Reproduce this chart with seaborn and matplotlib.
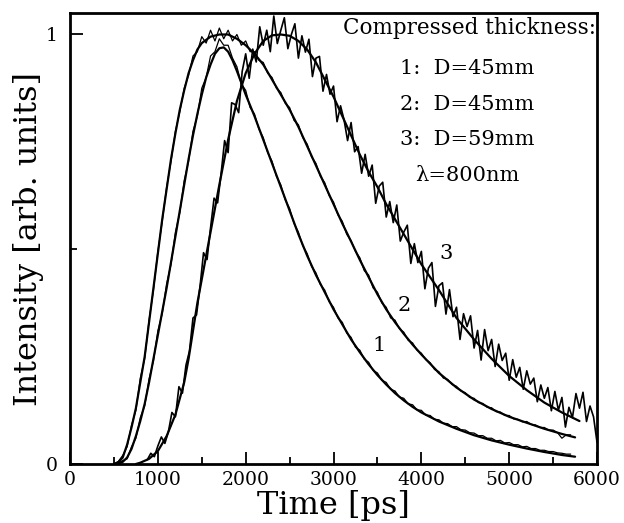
import numpy as np
import matplotlib
matplotlib.use("Agg")
import matplotlib.pyplot as plt
import seaborn as sns

# ---------------- data ----------------
# smooth fits (time in ps, normalised intensity)
fit1_t = [550, 600, 650, 700, 750, 800, 850, 900, 950, 1000, 1050, 1100, 1150, 1200, 1250, 1300,
          1350, 1400, 1450, 1500, 1550, 1600, 1650, 1700, 1750, 1800, 1850, 1900, 2000, 2100, 2200,
          2300, 2400, 2500, 2600, 2700, 2800, 2900, 3000, 3100, 3200, 3300, 3400, 3500, 3600, 3700,
          3800, 3900, 4000, 4200, 4400, 4600, 4800, 5000, 5200, 5400, 5600, 5750]
fit1_y = [0.0, 0.005, 0.015, 0.035, 0.065, 0.10, 0.14, 0.19, 0.245, 0.30, 0.355, 0.41, 0.47, 0.53,
          0.59, 0.65, 0.71, 0.765, 0.815, 0.86, 0.90, 0.93, 0.955, 0.968, 0.97, 0.96, 0.94, 0.915,
          0.86, 0.81, 0.755, 0.70, 0.645, 0.59, 0.535, 0.485, 0.44, 0.40, 0.36, 0.325, 0.29, 0.26,
          0.232, 0.207, 0.185, 0.165, 0.148, 0.133, 0.12, 0.099, 0.082, 0.067, 0.055, 0.045, 0.036,
          0.028, 0.021, 0.017]

fit2_t = [500, 550, 600, 650, 700, 750, 800, 850, 900, 950, 1000, 1050, 1100, 1150, 1200, 1250,
          1300, 1350, 1400, 1450, 1500, 1600, 1700, 1800, 1900, 2000, 2100, 2200, 2300, 2400, 2500,
          2600, 2700, 2800, 2900, 3000, 3100, 3200, 3300, 3400, 3500, 3600, 3700, 3800, 3900, 4000,
          4200, 4400, 4600, 4800, 5000, 5200, 5400, 5600, 5750]
fit2_y = [0.0, 0.004, 0.015, 0.045, 0.085, 0.13, 0.19, 0.25, 0.33, 0.41, 0.49, 0.57, 0.64, 0.71,
          0.77, 0.825, 0.87, 0.91, 0.94, 0.965, 0.98, 0.995, 1.0, 1.0, 0.99, 0.975, 0.955, 0.93,
          0.895, 0.86, 0.825, 0.785, 0.74, 0.695, 0.65, 0.605, 0.56, 0.518, 0.475, 0.435, 0.395,
          0.36, 0.33, 0.303, 0.278, 0.255, 0.212, 0.178, 0.15, 0.128, 0.11, 0.096, 0.082, 0.07, 0.062]

fit3_t = [750, 800, 900, 1000, 1100, 1200, 1300, 1350, 1400, 1450, 1500, 1600, 1700, 1800, 1900,
          2000, 2100, 2200, 2300, 2400, 2500, 2600, 2700, 2800, 2900, 3000, 3100, 3200, 3300, 3400,
          3500, 3600, 3700, 3800, 3900, 4000, 4100, 4200, 4400, 4600, 4800, 5000, 5200, 5400, 5600, 5800]
fit3_y = [0.0, 0.003, 0.012, 0.03, 0.065, 0.115, 0.19, 0.245, 0.31, 0.375, 0.43, 0.54, 0.65, 0.755,
          0.845, 0.91, 0.955, 0.985, 0.998, 1.0, 0.997, 0.985, 0.965, 0.935, 0.895, 0.855, 0.81,
          0.765, 0.72, 0.68, 0.645, 0.605, 0.57, 0.535, 0.50, 0.465, 0.435, 0.405, 0.34, 0.29,
          0.245, 0.205, 0.172, 0.143, 0.12, 0.10]

# measured (noisy) curves, sampled every 50 ps / 40 ps
meas1_start, meas1_step = 550, 50
meas1_y = [0.002, 0.008, 0.012, 0.04, 0.06, 0.108, 0.135, 0.198, 0.24, 0.31, 0.35, 0.42, 0.465, 0.54,
           0.585, 0.66, 0.705, 0.775, 0.81, 0.875, 0.90, 0.95, 0.96, 0.99, 0.975, 0.975, 0.945, 0.925,
           0.885, 0.87, 0.83, 0.815, 0.78, 0.76, 0.725, 0.705, 0.67, 0.65, 0.615, 0.595, 0.56, 0.54,
           0.508, 0.49, 0.46, 0.445, 0.418, 0.405, 0.378, 0.365, 0.34, 0.33, 0.305, 0.295, 0.272,
           0.265, 0.244, 0.237, 0.218, 0.212, 0.195, 0.19, 0.174, 0.17, 0.156, 0.153, 0.14, 0.138,
           0.126, 0.125, 0.114, 0.113, 0.104, 0.103, 0.095, 0.094, 0.087, 0.087, 0.08, 0.079, 0.073,
           0.072, 0.066, 0.066, 0.06, 0.06, 0.054, 0.055, 0.049, 0.05, 0.045, 0.045, 0.04, 0.041,
           0.036, 0.036, 0.032, 0.032, 0.029, 0.029, 0.026, 0.025, 0.023, 0.023]

meas2_start, meas2_step = 500, 50
meas2_y = [0.0, 0.006, 0.02, 0.04, 0.09, 0.125, 0.20, 0.245, 0.335, 0.405, 0.495, 0.565, 0.645, 0.705,
           0.775, 0.82, 0.875, 0.905, 0.95, 0.96, 0.995, 0.98, 1.01, 0.985, 1.015, 0.99, 1.01, 0.985,
           1.0, 0.975, 0.985, 0.96, 0.96, 0.94, 0.935, 0.91, 0.90, 0.875, 0.865, 0.84, 0.83, 0.80,
           0.79, 0.76, 0.745, 0.715, 0.70, 0.67, 0.655, 0.625, 0.61, 0.58, 0.565, 0.535, 0.52, 0.495,
           0.48, 0.45, 0.44, 0.41, 0.40, 0.375, 0.365, 0.34, 0.335, 0.315, 0.307, 0.288, 0.282, 0.265,
           0.258, 0.243, 0.236, 0.22, 0.215, 0.20, 0.197, 0.185, 0.181, 0.17, 0.166, 0.155, 0.153,
           0.143, 0.141, 0.132, 0.131, 0.122, 0.121, 0.113, 0.113, 0.105, 0.104, 0.098, 0.099, 0.092,
           0.091, 0.085, 0.085, 0.079, 0.079, 0.073, 0.06, 0.068, 0.068]

meas3_start, meas3_step = 880, 40
meas3_y = [0.01, 0.025, 0.017, 0.042, 0.063, 0.048, 0.075, 0.12, 0.11, 0.18, 0.165, 0.23, 0.263,
           0.34, 0.347, 0.413, 0.492, 0.476, 0.55, 0.619, 0.608, 0.676, 0.753, 0.725, 0.841, 0.837,
           0.818, 0.914, 0.955, 0.898, 0.966, 0.936, 1.018, 0.975, 1.01, 0.96, 1.043, 0.979, 1.01,
           1.039, 0.967, 1.0, 1.025, 0.945, 0.997, 0.959, 0.989, 0.902, 0.945, 0.949, 0.868, 0.907,
           0.861, 0.88, 0.797, 0.834, 0.801, 0.753, 0.795, 0.727, 0.739, 0.677, 0.721, 0.67, 0.696,
           0.607, 0.647, 0.656, 0.575, 0.611, 0.562, 0.603, 0.519, 0.54, 0.556, 0.467, 0.513, 0.469,
           0.495, 0.408, 0.456, 0.469, 0.367, 0.415, 0.422, 0.349, 0.406, 0.343, 0.365, 0.29, 0.35,
           0.32, 0.345, 0.27, 0.311, 0.242, 0.313, 0.264, 0.29, 0.227, 0.279, 0.241, 0.258, 0.195,
           0.243, 0.202, 0.225, 0.174, 0.217, 0.186, 0.20, 0.145, 0.184, 0.153, 0.178, 0.124, 0.169,
           0.125, 0.155, 0.086, 0.132, 0.108, 0.164, 0.13, 0.167, 0.099, 0.135, 0.11, 0.05]

legend_title = "Compressed thickness:"
legend_lines = ["1:  D=45mm", "2:  D=45mm", "3:  D=59mm", "\u03bb=800nm"]
curve_labels = ["1", "2", "3"]
label_pos = [(3520, 0.277), (3810, 0.37), (4280, 0.49)]

# ---------------- plotting ----------------
sns.set_style("ticks")
plt.rcParams['font.family'] = ['DejaVu Serif', 'DejaVu Sans']
plt.rcParams['text.color'] = 'black'
plt.rcParams['axes.labelcolor'] = 'black'
plt.rcParams['xtick.color'] = 'black'
plt.rcParams['ytick.color'] = 'black'

fig = plt.figure(figsize=(6.24, 5.23), dpi=100)
ax = fig.add_axes([0.1122, 0.1128, 0.8446, 0.8623])

for start, step, ys, w in [(meas1_start, meas1_step, meas1_y, 0.9),
                           (meas2_start, meas2_step, meas2_y, 0.9),
                           (meas3_start, meas3_step, meas3_y, 1.2)]:
    t = np.arange(len(ys)) * step + start
    sns.lineplot(x=t, y=ys, ax=ax, color='black', lw=w, estimator=None, sort=False)

for t, ys in [(fit1_t, fit1_y), (fit2_t, fit2_y), (fit3_t, fit3_y)]:
    sns.lineplot(x=t, y=ys, ax=ax, color='black', lw=1.6, estimator=None, sort=False)

ax.set_xlim(0, 6000)
ax.set_ylim(0, 1.05)
ax.set_xticks(range(0, 6001, 1000))
ax.set_xticks(range(500, 6000, 1000), minor=True)
ax.set_yticks([0, 1])
ax.set_yticklabels(['0', '1'])
ax.set_yticks([0.5], minor=True)
ax.tick_params(which='both', direction='in', top=False, right=False, width=1.3, labelsize=13.5)
ax.tick_params(which='major', length=9)
ax.tick_params(which='minor', length=5)
ax.tick_params(axis='y', pad=9)
ax.tick_params(axis='x', pad=5)
for sp in ax.spines.values():
    sp.set_linewidth(2)
    sp.set_color('black')

ax.set_xlabel('Time [ps]', fontsize=23, labelpad=1)
ax.set_ylabel('Intensity [arb. units]', fontsize=23, labelpad=1)

ax.text(5985, 1.016, legend_title, fontsize=15.5, ha='right', va='center')
for i, txt in enumerate(legend_lines):
    ax.text(4520, 0.921 - i * 0.083, txt, fontsize=15, ha='center', va='center')

for lab, (x, y) in zip(curve_labels, label_pos):
    ax.text(x, y, lab, fontsize=15, ha='center', va='center')

fig.savefig('out.png', dpi=100)
